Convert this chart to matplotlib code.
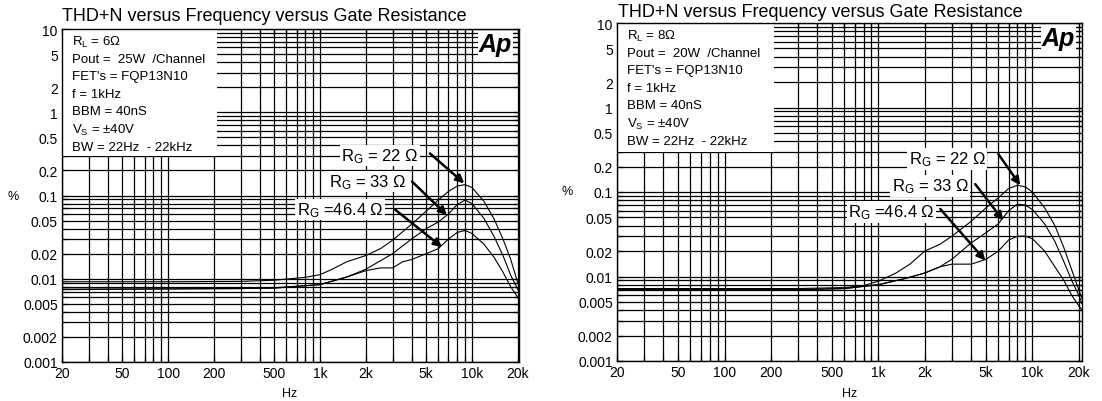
import matplotlib
matplotlib.use("Agg")
import matplotlib.pyplot as plt
from matplotlib.patches import Rectangle

plt.rcParams["font.family"] = ["Liberation Sans", "DejaVu Sans"]
plt.rcParams["mathtext.default"] = "regular"

# ---- data ----
# left panel: RL = 6 ohm, 25 W
freq_6_22 = [20, 100, 300, 500, 800, 1000, 1200, 1500, 2000, 2500, 3000, 4000, 5000, 6000, 7000,
             8000, 9000, 10000, 12000, 14000, 16000, 18000, 20000, 20400]
thd_6_22 = [0.0092, 0.0092, 0.0093, 0.0096, 0.0104, 0.0112, 0.013, 0.016, 0.019, 0.023, 0.029, 0.045,
            0.065, 0.088, 0.112, 0.13, 0.135, 0.125, 0.085, 0.052, 0.03, 0.017, 0.009, 0.008]
freq_6_33 = [20, 300, 500, 1000, 1500, 2000, 3000, 4000, 5000, 6000, 7000, 8000, 9000, 10000,
             12000, 14000, 16000, 18000, 20000, 20400]
thd_6_33 = [0.0075, 0.0076, 0.0078, 0.0085, 0.0105, 0.013, 0.02, 0.03, 0.04, 0.048, 0.06, 0.078, 0.088,
            0.08, 0.053, 0.032, 0.019, 0.011, 0.0075, 0.007]
freq_6_46 = [20, 500, 1000, 1500, 2000, 2500, 3000, 3500, 4000, 5000, 6000, 7000, 8000, 9000, 10000,
             12000, 14000, 16000, 18000, 20000, 20400]
thd_6_46 = [0.0074, 0.0077, 0.0085, 0.0105, 0.0125, 0.0135, 0.0135, 0.016, 0.017, 0.02, 0.023, 0.03,
            0.036, 0.038, 0.035, 0.026, 0.018, 0.012, 0.008, 0.006, 0.0055]

# right panel: RL = 8 ohm, 20 W
freq_8_22 = [20, 100, 300, 600, 800, 1000, 1300, 1600, 2000, 2500, 3000, 4000, 5000, 6000, 7000,
             8000, 9000, 10000, 12000, 14000, 16000, 18000, 20000, 21000]
thd_8_22 = [0.0072, 0.0072, 0.0072, 0.0074, 0.0078, 0.0088, 0.011, 0.014, 0.02, 0.024, 0.03, 0.045,
            0.065, 0.085, 0.11, 0.12, 0.115, 0.1, 0.065, 0.04, 0.022, 0.012, 0.007, 0.0055]
freq_8_33 = [20, 100, 300, 600, 1000, 1500, 2000, 2500, 3000, 4000, 5000, 6000, 7000, 8000, 9000,
             10000, 12000, 14000, 16000, 18000, 20000, 21000]
thd_8_33 = [0.007, 0.007, 0.007, 0.0072, 0.008, 0.0095, 0.011, 0.013, 0.016, 0.025, 0.033, 0.042,
            0.06, 0.072, 0.07, 0.062, 0.042, 0.026, 0.015, 0.009, 0.006, 0.0048]
freq_8_46 = [20, 100, 300, 600, 1000, 1500, 2000, 2500, 3000, 4000, 4500, 5000, 6000, 7000, 8000,
             9000, 10000, 12000, 14000, 16000, 18000, 20000, 21000]
thd_8_46 = [0.007, 0.007, 0.007, 0.0072, 0.008, 0.0095, 0.011, 0.013, 0.014, 0.014, 0.015, 0.016,
            0.02, 0.027, 0.03, 0.03, 0.028, 0.02, 0.013, 0.009, 0.006, 0.0045, 0.004]

x_ticks = [20, 50, 100, 200, 500, 1000, 2000, 5000, 10000, 20000]
x_labels = ["20", "50", "100", "200", "500", "1k", "2k", "5k", "10k", "20k"]
y_ticks = [0.001, 0.002, 0.005, 0.01, 0.02, 0.05, 0.1, 0.2, 0.5, 1, 2, 5, 10]
y_labels = ["0.001", "0.002", "0.005", "0.01", "0.02", "0.05", "0.1", "0.2", "0.5", "1", "2", "5", "10"]

title = "THD+N versus Frequency versus Gate Resistance"
info_6 = ["R$_L$ = 6Ω", "Pout =  25W  /Channel", "FET's = FQP13N10", "f = 1kHz",
          "BBM = 40nS", "V$_S$ = ±40V", "BW = 22Hz  - 22kHz"]
info_8 = ["R$_L$ = 8Ω", "Pout =  20W  /Channel", "FET's = FQP13N10", "f = 1kHz",
          "BBM = 40nS", "V$_S$ = ±40V", "BW = 22Hz  - 22kHz"]
labels = ["R$_G$ = 22 Ω", "R$_G$ = 33 Ω", "R$_G$ =46.4 Ω"]

W, H = 1102, 402
fig = plt.figure(figsize=(W / 100, H / 100), dpi=100)


def px(x, y):
    return x / W, 1 - y / H


def panel(ax, curves, info, notes, xmax):
    ax.set_xscale("log")
    ax.set_yscale("log")
    ax.set_xlim(20, xmax)
    ax.set_ylim(0.001, 10)

    # grid lines (1..9 per decade)
    xg = [m * 10 ** e for e in range(1, 5) for m in range(1, 10) if 20 <= m * 10 ** e <= xmax]
    yg = [m * 10.0 ** e for e in range(-3, 1) for m in range(1, 10)] + [10]
    for g in xg:
        ax.axvline(g, color="k", lw=0.9, zorder=1)
    for g in yg:
        ax.axhline(g, color="k", lw=0.9, zorder=1)

    # white info box covering the grid
    ax.add_patch(Rectangle((20, 0.3), 209 - 20, 10 - 0.3, facecolor="white",
                           edgecolor="none", zorder=2))

    for f, v in curves:
        ax.plot(f, v, color="k", lw=0.8, zorder=3)

    ax.set_xticks(x_ticks)
    ax.set_xticklabels(x_labels)
    ax.set_xticks([g for g in xg if g not in x_ticks], minor=True)
    ax.set_xticklabels([], minor=True)
    ax.set_yticks(y_ticks)
    ax.set_yticklabels(y_labels)
    ax.set_yticks([g for g in yg if g not in y_ticks], minor=True)
    ax.set_yticklabels([], minor=True)
    ax.tick_params(which="both", direction="in", top=True, right=True,
                   length=4, width=0.9, labelsize=10, pad=3, zorder=2.5)
    for s in ax.spines.values():
        s.set_linewidth(1.0)
        s.set_zorder(4)

    for i, line in enumerate(info):
        ax.text(0.022, 1 - (12 + 17.6 * i) / (ax.bbox.height), line,
                transform=ax.transAxes, fontsize=9.5, ha="left", va="center", zorder=5)

    for (lx, ly), (tx, ty), (hx, hy), lab in notes:
        ax.text(lx, ly, lab, fontsize=12, ha="center", va="center", zorder=6,
                bbox=dict(facecolor="white", edgecolor="none", pad=1))
        ax.annotate("", xy=(hx, hy), xytext=(tx, ty), zorder=6,
                    arrowprops=dict(arrowstyle="-|>", color="k", lw=1.8,
                                    mutation_scale=12, shrinkA=0, shrinkB=0))

    ax.text(0.985, 0.99, "Ap", transform=ax.transAxes, ha="right", va="top",
            fontsize=18, fontweight="heavy", style="italic", zorder=6,
            bbox=dict(facecolor="white", edgecolor="none", pad=0.3))


ax1 = fig.add_axes([62 / W, (H - 363) / H, 457 / W, 333 / H])
ax2 = fig.add_axes([617 / W, (H - 362) / H, 465 / W, 338 / H])

panel(ax1, [(freq_6_22, thd_6_22), (freq_6_33, thd_6_33), (freq_6_46, thd_6_46)], info_6,
      [((2480, 0.30), (5290, 0.32), (8900, 0.14), labels[0]),
       ((2070, 0.147), (4030, 0.147), (6850, 0.058), labels[1]),
       ((1350, 0.068), (3110, 0.068), (6350, 0.024), labels[2])],
      20400)
panel(ax2, [(freq_8_22, thd_8_22), (freq_8_33, thd_8_33), (freq_8_46, thd_8_46)], info_8,
      [((2800, 0.246), (6000, 0.282), (8340, 0.12), labels[0]),
       ((2170, 0.118), (4250, 0.124), (6470, 0.046), labels[1]),
       ((1210, 0.058), (2520, 0.063), (4940, 0.0155), labels[2])],
      21000)

# titles and axis labels
fig.text(*px(62, 21), title, fontsize=13, ha="left", va="baseline")
fig.text(*px(618, 17), title, fontsize=13, ha="left", va="baseline")
fig.text(*px(13, 197), "%", fontsize=9, ha="center", va="center")
fig.text(*px(567, 192), "%", fontsize=9, ha="center", va="center")
fig.text(*px(290, 394), "Hz", fontsize=9, ha="center", va="center")
fig.text(*px(850, 394), "Hz", fontsize=9, ha="center", va="center")

fig.savefig("out.png", dpi=100)
